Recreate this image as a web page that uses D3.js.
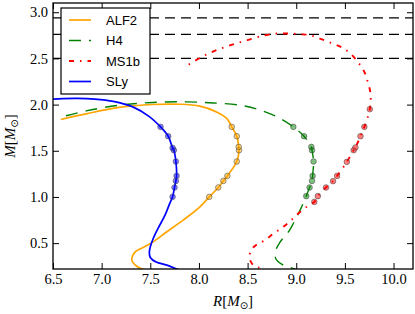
<!DOCTYPE html>
<html>
<head>
<meta charset="utf-8">
<script src="https://cdn.jsdelivr.net/npm/d3@7"></script>
<style>
  body { margin: 0; background: #fff; }
  svg { display: block; }
  .tick text { font-family: "Liberation Serif", serif; font-size: 14.5px; fill: #000; }
  .tick line { stroke: #000; stroke-width: 1; }
</style>
</head>
<body>
<svg width="415" height="314"></svg>
<script>
// mass-radius curves, [R, M] in solar masses
var alf2Curve = [[7.52,0.17],[7.43,0.215],[7.36,0.25],[7.31,0.316],[7.34,0.40],[7.43,0.455],[7.53,0.514],[7.667,0.62],[7.838,0.749],[8.01,0.893],[8.106,1.001],[8.199,1.103],[8.251,1.174],[8.292,1.228],[8.389,1.384],[8.412,1.506],[8.409,1.542],[8.389,1.658],[8.337,1.759],[8.286,1.85],[8.18,1.921],[8.01,1.983],[7.80,2.004],[7.526,2.001],[7.18,1.969],[6.84,1.90],[6.58,1.839]];
var h4Curve = [[9.06,0.19],[8.95,0.232],[8.85,0.272],[8.79,0.33],[8.79,0.42],[8.835,0.514],[8.92,0.622],[8.97,0.713],[9.04,0.857],[9.103,1.009],[9.137,1.103],[9.162,1.174],[9.168,1.228],[9.178,1.384],[9.162,1.506],[9.155,1.542],[9.08,1.658],[8.97,1.759],[8.835,1.85],[8.63,1.94],[8.42,1.994],[8.147,2.018],[7.87,2.03],[7.526,2.023],[7.18,1.993],[6.84,1.932],[6.615,1.874]];
var ms1bCurve = [[8.72,0.18],[8.68,0.215],[8.56,0.26],[8.52,0.345],[8.54,0.43],[8.60,0.49],[8.68,0.532],[8.766,0.605],[8.853,0.665],[8.94,0.741],[9.03,0.83],[9.11,0.895],[9.186,0.947],[9.222,1.009],[9.306,1.103],[9.378,1.171],[9.42,1.228],[9.52,1.38],[9.59,1.506],[9.608,1.536],[9.66,1.658],[9.70,1.759],[9.756,1.95],[9.763,2.12],[9.735,2.245],[9.70,2.354],[9.642,2.45],[9.557,2.553],[9.47,2.618],[9.36,2.668],[9.258,2.708],[9.144,2.751],[9.04,2.762],[8.92,2.769],[8.80,2.769],[8.68,2.751],[8.474,2.69],[8.268,2.624],[8.062,2.535],[7.856,2.408]];
var slyCurve = [[7.95,0.17],[7.786,0.215],[7.67,0.262],[7.56,0.295],[7.50,0.345],[7.49,0.40],[7.50,0.46],[7.53,0.55],[7.58,0.66],[7.65,0.80],[7.70,0.93],[7.729,1.001],[7.749,1.103],[7.763,1.174],[7.770,1.228],[7.763,1.384],[7.742,1.506],[7.729,1.531],[7.684,1.658],[7.605,1.759],[7.49,1.87],[7.32,1.975],[7.12,2.035],[6.93,2.06],[6.75,2.068],[6.6,2.065],[6.45,2.055]];

// marked stars on each curve
var alf2Stars = [[8.106,1.001],[8.199,1.103],[8.251,1.174],[8.292,1.228],[8.389,1.384],[8.412,1.506],[8.409,1.542],[8.389,1.658],[8.337,1.759]];
var h4Stars = [[9.103,1.009],[9.137,1.103],[9.162,1.174],[9.168,1.228],[9.178,1.384],[9.162,1.506],[9.155,1.542],[9.08,1.658],[8.97,1.759]];
var ms1bStars = [[9.186,0.947],[9.222,1.009],[9.306,1.103],[9.378,1.171],[9.42,1.228],[9.52,1.38],[9.59,1.506],[9.608,1.536],[9.66,1.658],[9.70,1.759],[9.756,1.95]];
var slyStars = [[7.729,1.001],[7.749,1.103],[7.763,1.174],[7.770,1.228],[7.763,1.384],[7.742,1.506],[7.729,1.531],[7.684,1.658],[7.605,1.759]];

var hLines = [2.94, 2.76, 2.5];
var xTicks = [6.5, 7.0, 7.5, 8.0, 8.5, 9.0, 9.5, 10.0];
var yTicks = [0.5, 1.0, 1.5, 2.0, 2.5, 3.0];
var names = ["ALF2", "H4", "MS1b", "SLy"];

var svg = d3.select("svg");
var pLeft = 53, pRight = 413, pTop = 3, pBottom = 269;

var x = d3.scaleLinear().domain([6.5, 10.2]).range([pLeft, pRight]);
var y = d3.scaleLinear().domain([0.22, 3.1]).range([pBottom, pTop]);

svg.append("clipPath").attr("id", "clip")
    .append("rect").attr("x", pLeft).attr("y", pTop)
    .attr("width", pRight - pLeft).attr("height", pBottom - pTop);

var styles = [
    { curve: alf2Curve, stars: alf2Stars, color: "orange", width: 1.7, dash: null },
    { curve: h4Curve, stars: h4Stars, color: "green", width: 1.4, dash: "12,8" },
    { curve: ms1bCurve, stars: ms1bStars, color: "red", width: 1.9, dash: "5,6,1.5,6" },
    { curve: slyCurve, stars: slyStars, color: "blue", width: 1.7, dash: null }
];

var plot = svg.append("g").attr("clip-path", "url(#clip)");

plot.selectAll(".hline")
    .data(hLines)
    .enter().append("line")
    .attr("x1", pLeft).attr("x2", pRight)
    .attr("y1", function(d) { return y(d); })
    .attr("y2", function(d) { return y(d); })
    .attr("stroke", "#000").attr("stroke-width", 1.3)
    .attr("stroke-dasharray", "10,6");

var line = d3.line()
    .x(function(d) { return x(d[0]); })
    .y(function(d) { return y(d[1]); })
    .curve(d3.curveCatmullRom.alpha(0.5));

styles.forEach(function(s) {
    plot.append("path")
        .datum(s.curve)
        .attr("d", line)
        .attr("fill", "none")
        .attr("stroke", s.color)
        .attr("stroke-width", s.width)
        .attr("stroke-dasharray", s.dash);
});

styles.forEach(function(s) {
    plot.selectAll(null)
        .data(s.stars)
        .enter().append("circle")
        .attr("cx", function(d) { return x(d[0]); })
        .attr("cy", function(d) { return y(d[1]); })
        .attr("r", 2.8)
        .attr("fill", s.color)
        .attr("fill-opacity", 0.5)
        .attr("stroke", "#444")
        .attr("stroke-opacity", 0.6)
        .attr("stroke-width", 0.9);
});

// axes, ticks pointing inward on all four sides
var fmt = d3.format(".1f");
svg.append("g").attr("transform", "translate(0," + pBottom + ")")
    .call(d3.axisBottom(x).tickValues(xTicks).tickFormat(fmt).tickSizeInner(-6).tickSizeOuter(0).tickPadding(5))
    .call(function(g) { g.select(".domain").remove(); });
svg.append("g").attr("transform", "translate(0," + pTop + ")")
    .call(d3.axisTop(x).tickValues(xTicks).tickFormat("").tickSizeInner(-6).tickSizeOuter(0))
    .call(function(g) { g.select(".domain").remove(); });
svg.append("g").attr("transform", "translate(" + pLeft + ",0)")
    .call(d3.axisLeft(y).tickValues(yTicks).tickFormat(fmt).tickSizeInner(-6).tickSizeOuter(0).tickPadding(5))
    .call(function(g) { g.select(".domain").remove(); });
svg.append("g").attr("transform", "translate(" + pRight + ",0)")
    .call(d3.axisRight(y).tickValues(yTicks).tickFormat("").tickSizeInner(-6).tickSizeOuter(0))
    .call(function(g) { g.select(".domain").remove(); });

svg.append("rect")
    .attr("x", pLeft).attr("y", pTop)
    .attr("width", pRight - pLeft).attr("height", pBottom - pTop)
    .attr("fill", "none").attr("stroke", "#000").attr("stroke-width", 1.3);

// axis labels
function massLabel(t, sym) {
    t.attr("font-family", "Liberation Serif, serif").attr("font-size", 15);
    t.append("tspan").attr("font-style", "italic").text(sym);
    t.append("tspan").text("[");
    t.append("tspan").attr("font-style", "italic").text("M");
    t.append("tspan").attr("font-family", "DejaVu Sans").attr("font-size", 10).attr("dy", 3).text("\u2299");
    t.append("tspan").attr("dy", -3).text("]");
}
svg.append("text").attr("x", 233).attr("y", 306).attr("text-anchor", "middle").call(massLabel, "R");
svg.append("text").attr("transform", "translate(15,136) rotate(-90)").attr("text-anchor", "middle").call(massLabel, "M");

// legend
var legend = svg.append("g");
legend.append("rect")
    .attr("x", 61).attr("y", 8).attr("width", 89).attr("height", 86)
    .attr("fill", "#fff").attr("stroke", "#000").attr("stroke-width", 1.2);
styles.forEach(function(s, i) {
    var ly = 20 + i * 20.5;
    legend.append("line")
        .attr("x1", 69).attr("x2", 91).attr("y1", ly).attr("y2", ly)
        .attr("stroke", s.color).attr("stroke-width", s.width)
        .attr("stroke-dasharray", s.dash);
    legend.append("text")
        .attr("x", 106).attr("y", ly).attr("dy", "0.36em")
        .attr("font-family", "Liberation Sans, Arial, sans-serif").attr("font-size", 13)
        .text(names[i]);
});
</script>
</body>
</html>
